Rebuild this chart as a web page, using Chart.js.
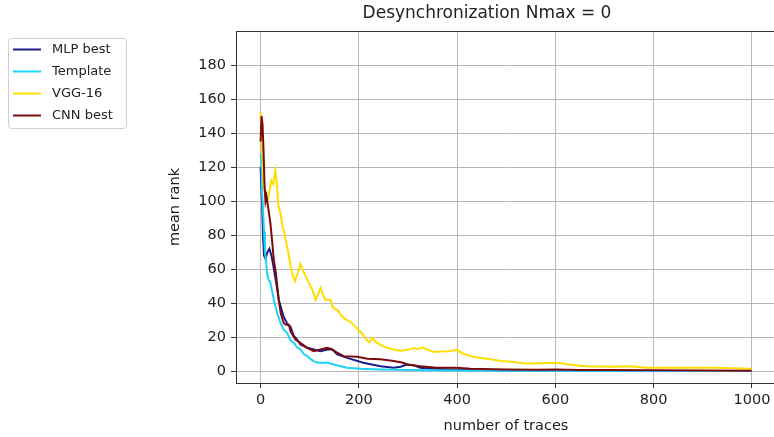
<!DOCTYPE html>
<html>
<head>
<meta charset="utf-8">
<script src="https://cdn.jsdelivr.net/npm/chart.js@4.4.1/dist/chart.umd.min.js"></script>
<style>
  html, body { margin: 0; padding: 0; background: #ffffff; overflow: hidden; }
  canvas { display: block; }
</style>
</head>
<body>
<canvas id="c" width="780" height="437"></canvas>
<script>
// ---- data ----
const TITLE = 'Desynchronization Nmax = 0';
const X_LABEL = 'number of traces';
const Y_LABEL = 'mean rank';
const X_TICKS = [0, 200, 400, 600, 800, 1000];
const Y_TICKS = [0, 20, 40, 60, 80, 100, 120, 140, 160, 180];

const mlpX = [0, 3, 5, 7, 10, 14, 18, 22, 26, 30, 34, 37, 41, 47, 54, 61, 67, 74, 81, 95, 108, 122, 136, 146, 156, 176, 209, 244, 271, 285, 298, 311, 325, 345, 380, 420, 500, 600, 700, 800, 900, 999];
const mlpY = [120, 100, 80, 68, 66, 70, 72, 68, 62, 55, 48, 42, 38, 32, 28, 26, 21, 18.6, 15.6, 13.7, 12.7, 11.7, 12.7, 12.7, 9.8, 7.8, 4.9, 2.9, 2.0, 2.6, 3.9, 3.5, 2.0, 1.5, 1.0, 0.6, 0.3, 0.2, 0.1, 0.1, 0.05, 0];

const tplX = [0, 2, 3, 5, 7, 9, 11, 13, 16, 20, 27, 34, 41, 47, 54, 61, 68, 74, 81, 88, 95, 102, 108, 115, 122, 136, 149, 163, 176, 204, 244, 300, 400, 500, 700, 999];
const tplY = [128, 120, 105, 95, 82, 70, 65, 58, 54, 52, 42, 34, 28, 24.4, 22.5, 18, 16.6, 14, 12.7, 10, 8.8, 7, 5.9, 5, 4.9, 4.9, 3.9, 2.9, 2.0, 1.4, 1.0, 0.7, 0.4, 0.2, 0.1, 0];

const vggX = [0, 3, 6, 10, 14, 18, 22, 26, 30, 33, 36, 41, 44, 48, 51, 55, 58, 62, 66, 70, 76, 81, 85, 90, 98, 105, 112, 117, 122, 127, 132, 142, 148, 156, 166, 176, 183, 193, 200, 207, 217, 222, 227, 235, 244, 255, 270, 285, 300, 311, 320, 331, 340, 352, 365, 380, 390, 400, 410, 427, 445, 468, 490, 515, 535, 555, 580, 603, 624, 645, 664, 690, 718, 735, 752, 770, 785, 820, 854, 890, 921, 960, 999];
const vggY = [152, 130, 110, 102, 100, 106, 112, 110, 118, 110, 98, 92, 86, 82, 77, 72, 67, 60, 56, 53, 58, 63, 60, 57, 52, 48, 42, 45, 49, 45, 42, 42, 37, 36, 32, 30, 29, 26, 24, 22, 18, 17, 19.6, 17, 15.5, 14, 12.7, 12, 12.5, 13.5, 13, 13.8, 12.5, 11.2, 11.5, 11.7, 12, 12.5, 10.5, 8.8, 7.8, 7, 6, 5.3, 4.6, 4.5, 4.7, 4.9, 4, 3.3, 2.9, 2.7, 2.6, 2.7, 2.9, 2.4, 2.0, 2.0, 2.0, 1.9, 2.0, 1.7, 1.4];

const cnnX = [0, 2, 4, 6, 8, 10, 12, 15, 17, 20, 22, 24, 27, 31, 34, 37, 41, 47, 51, 58, 61, 71, 81, 95, 108, 122, 136, 146, 156, 169, 197, 217, 244, 271, 290, 298, 325, 359, 400, 427, 500, 560, 600, 650, 700, 800, 900, 999];
const cnnY = [135, 150, 145, 130, 110, 100, 103, 97, 93, 87, 81, 75, 65, 58, 50, 42, 34, 28.3, 27.3, 27, 23.4, 18.6, 16.6, 13.7, 11.7, 12.7, 13.7, 12.7, 10.8, 8.8, 8.4, 7.3, 6.9, 5.9, 4.9, 3.9, 2.9, 2.0, 2.0, 1.4, 1.0, 0.8, 1.0, 0.7, 0.6, 0.5, 0.3, 0.2];

const SERIES = [
  { label: 'MLP best', xs: mlpX, ys: mlpY, color: '#1c1c8a' },
  { label: 'Template', xs: tplX, ys: tplY, color: '#1ed2f8' },
  { label: 'VGG-16',   xs: vggX, ys: vggY, color: '#ffdd00' },
  { label: 'CNN best', xs: cnnX, ys: cnnY, color: '#7d0a0a' }
];

const FONT = 'DejaVu Sans';

const legendPlugin = {
  id: 'boxLegend',
  afterDraw(chart) {
    const ctx = chart.ctx;
    const x0 = 8.5, y0 = 38.5, w = 118, h = 90;
    ctx.save();
    ctx.fillStyle = 'rgba(255,255,255,0.8)';
    ctx.strokeStyle = '#d0d0d0';
    ctx.lineWidth = 1;
    const r = 3;
    ctx.beginPath();
    ctx.moveTo(x0 + r, y0);
    ctx.lineTo(x0 + w - r, y0); ctx.quadraticCurveTo(x0 + w, y0, x0 + w, y0 + r);
    ctx.lineTo(x0 + w, y0 + h - r); ctx.quadraticCurveTo(x0 + w, y0 + h, x0 + w - r, y0 + h);
    ctx.lineTo(x0 + r, y0 + h); ctx.quadraticCurveTo(x0, y0 + h, x0, y0 + h - r);
    ctx.lineTo(x0, y0 + r); ctx.quadraticCurveTo(x0, y0, x0 + r, y0);
    ctx.closePath();
    ctx.fill(); ctx.stroke();
    ctx.font = '13px "' + FONT + '"';
    ctx.textBaseline = 'middle';
    ctx.textAlign = 'left';
    chart.data.datasets.forEach((ds, i) => {
      const y = 49.5 + i * 22;
      ctx.strokeStyle = ds.borderColor;
      ctx.lineWidth = 2;
      ctx.beginPath(); ctx.moveTo(13, y); ctx.lineTo(41, y); ctx.stroke();
      ctx.fillStyle = '#222';
      ctx.fillText(ds.label, 52, y);
    });
    ctx.restore();
  }
};

const titlePlugin = {
  id: 'plotTitle',
  afterDraw(chart) {
    const ctx = chart.ctx;
    ctx.save();
    ctx.font = '17px "' + FONT + '"';
    ctx.fillStyle = '#222';
    ctx.textAlign = 'center';
    ctx.textBaseline = 'middle';
    ctx.fillText(TITLE, 487, 14);
    ctx.restore();
  }
};

const framePlugin = {
  id: 'frame',
  afterDatasetsDraw(chart) {
    const {ctx, chartArea: a} = chart;
    ctx.save();
    ctx.strokeStyle = '#333';
    ctx.lineWidth = 1;
    ctx.beginPath();
    ctx.moveTo(a.left, Math.round(a.top) + 0.5);
    ctx.lineTo(a.right, Math.round(a.top) + 0.5);
    ctx.moveTo(Math.round(a.right) + 0.5, a.top);
    ctx.lineTo(Math.round(a.right) + 0.5, a.bottom);
    ctx.stroke();
    ctx.restore();
  }
};

new Chart(document.getElementById('c'), {
  type: 'line',
  data: {
    datasets: SERIES.map((s, i) => ({
      label: s.label,
      data: s.xs.map((x, k) => ({ x: x, y: s.ys[k] })),
      borderColor: s.color,
      backgroundColor: s.color,
      borderWidth: 2,
      pointRadius: 0,
      tension: 0,
      fill: false,
      order: SERIES.length - i
    }))
  },
  options: {
    responsive: false,
    animation: false,
    layout: { padding: { left: 163, right: 4, top: 31, bottom: 0 } },
    plugins: {
      legend: { display: false },
      tooltip: { enabled: false },
      title: { display: false }
    },
    scales: {
      x: {
        type: 'linear',
        min: -50, max: 1049,
        afterBuildTicks(scale) { scale.ticks = X_TICKS.map(v => ({ value: v })); },
        afterFit(scale) { scale.height = 54; },
        ticks: { color: '#222', font: { family: FONT, size: 14.5 }, padding: 4, maxRotation: 0, autoSkip: false,
                 callback: (v) => String(v) },
        grid: { color: '#b8b8b8', lineWidth: 1, tickLength: 5, tickColor: '#333', tickWidth: 1 },
        border: { color: '#333', width: 1 },
        title: { display: true, text: X_LABEL, color: '#222', font: { family: FONT, size: 14.5 }, padding: { top: 0, bottom: 2 } }
      },
      y: {
        type: 'linear',
        min: -7, max: 200,
        afterBuildTicks(scale) { scale.ticks = Y_TICKS.map(v => ({ value: v })); },
        afterFit(scale) { scale.width = 73; },
        ticks: { color: '#222', font: { family: FONT, size: 14.5 }, padding: 5, autoSkip: false,
                 callback: (v) => String(v) },
        grid: { color: '#b8b8b8', lineWidth: 1, tickLength: 5, tickColor: '#333', tickWidth: 1 },
        border: { color: '#333', width: 1 },
        title: { display: true, text: Y_LABEL, color: '#222', font: { family: FONT, size: 14.5 }, padding: { top: 4, bottom: 0 } }
      }
    }
  },
  plugins: [legendPlugin, titlePlugin, framePlugin]
});
</script>
</body>
</html>
